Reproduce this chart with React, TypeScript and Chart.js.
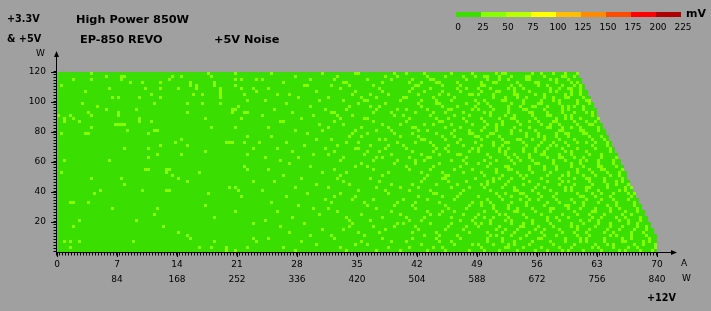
import { useEffect, useRef } from 'react';
import { Chart, registerables } from 'chart.js';

Chart.register(...registerables);

// ---- axis data ----
const currentTicksA = [0, 7, 14, 21, 28, 35, 42, 49, 56, 63, 70];
const power12VTicksW = [0, 84, 168, 252, 336, 420, 504, 588, 672, 756, 840];
const powerTicksW = [20, 40, 60, 80, 100, 120];

// ---- legend data ----
const noiseStopsMv = [0, 25, 50, 75, 100, 125, 150, 175, 200, 225];
const noiseBandColors = ['#3ade00', '#86ff00', '#b8ff00', '#ffff00', '#ffbf00', '#ff8a00', '#ff4a00', '#ff0000', '#b00000'];

// ---- measurement grid ----
const STEP_A = 0.35; // +12V current step per cell
const STEP_W = 2; // +3.3V & +5V power step per cell
const COLUMNS = 200;
const MAX_A = 70;
const MAX_W = 120;
const RAIL_V = 12;
const RATED_W = 850;

// cells measuring 25–50 mV (all other cells 0–25 mV); one list per row, top row (118–120 W) first,
// values are column indexes (column i covers i*0.35 … (i+1)*0.35 A)
const rows25to50mV: number[][] = [
  [11, 50, 59, 71, 88, 99, 100, 112, 116, 122, 131, 138, 146, 148, 149, 158, 161, 165, 169, 173],
  [16, 21, 22, 38, 41, 51, 79, 93, 109, 113, 123, 129, 135, 139, 142, 143, 147, 151, 156, 157, 162, 168, 169, 172],
  [5, 11, 21, 37, 59, 61, 66, 68, 84, 92, 103, 111, 118, 124, 125, 136, 143, 147, 150, 156, 157, 164, 166, 170],
  [24, 28, 34, 44, 52, 75, 95, 96, 108, 117, 121, 126, 127, 133, 141, 145, 146, 153, 159, 160, 166, 171, 173],
  [1, 44, 46, 52, 59, 82, 83, 91, 97, 105, 119, 120, 128, 134, 141, 142, 151, 154, 160, 163, 168, 172, 174],
  [17, 29, 34, 40, 46, 54, 61, 65, 70, 94, 107, 118, 124, 133, 136, 140, 144, 150, 152, 155, 164, 167, 170, 171, 174],
  [9, 54, 66, 86, 99, 108, 117, 122, 128, 134, 141, 146, 147, 152, 157, 164, 166, 171, 174],
  [31, 45, 48, 54, 62, 73, 77, 98, 104, 110, 120, 127, 130, 137, 138, 140, 145, 152, 153, 159, 162, 169, 171, 174],
  [18, 20, 27, 34, 54, 80, 90, 101, 106, 115, 116, 125, 132, 145, 149, 153, 156, 162, 165, 169, 170, 175],
  [63, 69, 87, 95, 102, 103, 114, 121, 126, 131, 139, 142, 148, 149, 155, 161, 165, 167, 173, 176, 177],
  [8, 32, 43, 48, 54, 76, 100, 109, 120, 126, 127, 136, 140, 143, 151, 155, 160, 161, 167, 173, 177],
  [13, 60, 84, 97, 104, 107, 121, 128, 133, 139, 144, 150, 154, 158, 159, 163, 168, 170, 172, 175],
  [16, 26, 58, 59, 72, 89, 96, 106, 113, 116, 123, 130, 131, 138, 140, 145, 150, 155, 156, 162, 168, 170, 175],
  [10, 20, 43, 58, 62, 63, 78, 91, 92, 105, 111, 119, 125, 129, 135, 142, 144, 150, 157, 158, 163, 168, 172, 176, 178],
  [0, 4, 11, 20, 68, 85, 93, 98, 112, 115, 124, 132, 137, 144, 149, 152, 158, 163, 164, 169, 171, 178],
  [2, 5, 27, 49, 61, 81, 94, 102, 103, 117, 126, 130, 135, 141, 147, 151, 152, 159, 166, 169, 171, 174, 180],
  [2, 7, 27, 31, 74, 75, 92, 105, 116, 127, 128, 136, 142, 148, 153, 157, 160, 165, 166, 172, 176, 179],
  [19, 20, 21, 22, 87, 95, 108, 114, 122, 125, 131, 138, 143, 146, 148, 154, 161, 164, 167, 173, 177, 178],
  [11, 51, 59, 70, 90, 101, 110, 118, 119, 129, 134, 142, 146, 152, 157, 163, 164, 168, 171, 174, 180],
  [23, 32, 33, 79, 88, 99, 106, 111, 120, 123, 132, 137, 141, 146, 151, 154, 159, 167, 168, 174, 175, 180],
  [1, 9, 10, 30, 83, 98, 103, 112, 118, 126, 131, 137, 138, 144, 145, 151, 156, 160, 166, 169, 170, 175, 176, 183],
  [63, 71, 97, 101, 114, 120, 128, 132, 139, 140, 143, 147, 156, 160, 162, 166, 170, 177, 181],
  [41, 86, 91, 107, 109, 121, 122, 129, 134, 141, 148, 153, 154, 158, 162, 167, 172, 178, 182],
  [39, 56, 57, 58, 62, 67, 76, 96, 100, 113, 119, 124, 133, 139, 145, 149, 150, 155, 161, 165, 169, 173, 176, 179, 183],
  [34, 43, 82, 93, 104, 110, 115, 125, 130, 135, 141, 145, 148, 156, 160, 164, 166, 170, 178, 183],
  [22, 30, 65, 73, 89, 99, 100, 109, 116, 126, 129, 138, 140, 147, 150, 155, 159, 163, 168, 173, 179, 184],
  [49, 78, 92, 103, 107, 118, 125, 130, 137, 140, 147, 149, 155, 159, 162, 169, 171, 176, 184],
  [33, 41, 63, 85, 90, 102, 111, 121, 127, 133, 134, 143, 149, 152, 157, 161, 162, 167, 171, 177, 181],
  [30, 69, 80, 95, 106, 108, 117, 123, 124, 136, 144, 150, 153, 157, 163, 167, 168, 172, 175, 181, 186],
  [2, 17, 74, 94, 105, 113, 119, 122, 131, 135, 142, 146, 151, 154, 158, 165, 169, 174, 176, 180, 185],
  [77, 101, 112, 119, 127, 136, 140, 144, 152, 159, 160, 165, 171, 174, 180, 185],
  [62, 84, 99, 103, 116, 125, 134, 143, 149, 150, 157, 162, 166, 171, 175, 180, 181, 186],
  [29, 30, 36, 37, 63, 70, 92, 105, 117, 124, 132, 138, 146, 150, 151, 157, 162, 166, 173, 177, 181, 182, 188],
  [1, 36, 47, 88, 96, 110, 121, 128, 135, 141, 146, 153, 158, 164, 170, 173, 178, 183, 187],
  [38, 75, 94, 108, 123, 129, 130, 142, 148, 154, 156, 163, 168, 170, 175, 179, 184, 187],
  [11, 21, 40, 81, 93, 104, 122, 128, 129, 139, 145, 147, 151, 155, 161, 167, 172, 176, 177, 182, 188],
  [43, 65, 72, 95, 107, 121, 130, 136, 143, 145, 150, 157, 163, 168, 170, 177, 182, 186, 188],
  [22, 86, 97, 111, 118, 126, 133, 141, 143, 149, 155, 160, 167, 172, 178, 183, 186, 190],
  [57, 59, 79, 90, 106, 114, 120, 131, 137, 142, 148, 152, 159, 162, 169, 171, 176, 177, 183, 189, 191],
  [14, 28, 36, 37, 60, 68, 100, 109, 117, 124, 135, 144, 152, 153, 158, 164, 169, 171, 176, 180, 187, 189],
  [12, 50, 83, 94, 110, 125, 126, 134, 146, 149, 154, 155, 160, 166, 173, 178, 181, 185, 190, 192],
  [61, 76, 92, 99, 120, 128, 133, 140, 147, 151, 156, 161, 165, 174, 175, 179, 184, 191],
  [89, 98, 105, 115, 123, 132, 143, 148, 154, 157, 160, 166, 171, 176, 181, 185, 190, 194],
  [4, 5, 10, 71, 91, 102, 113, 119, 127, 138, 141, 144, 151, 156, 163, 167, 172, 175, 180, 186, 192],
  [49, 80, 103, 112, 118, 129, 137, 141, 145, 150, 156, 162, 169, 170, 175, 183, 186, 192, 195],
  [18, 33, 85, 90, 106, 119, 130, 136, 145, 150, 153, 158, 164, 165, 170, 174, 179, 184, 187, 193],
  [59, 73, 93, 111, 123, 128, 132, 142, 146, 152, 153, 159, 164, 172, 178, 179, 184, 189, 193],
  [32, 87, 101, 114, 124, 127, 135, 140, 147, 149, 155, 161, 168, 173, 177, 182, 188, 191],
  [52, 78, 96, 108, 116, 122, 131, 139, 142, 145, 150, 156, 163, 166, 170, 178, 181, 186, 189, 194, 197],
  [7, 26, 69, 97, 104, 117, 121, 134, 138, 144, 149, 151, 158, 163, 167, 174, 177, 180, 187, 190, 194],
  [65, 82, 98, 113, 115, 124, 131, 139, 141, 144, 151, 155, 158, 164, 171, 175, 180, 184, 190, 193, 198],
  [5, 35, 74, 97, 105, 112, 119, 130, 136, 140, 147, 154, 155, 160, 165, 171, 173, 179, 184, 188, 193, 196],
  [88, 95, 109, 120, 129, 135, 146, 149, 153, 159, 162, 167, 173, 177, 183, 187, 192, 196],
  [40, 77, 100, 107, 118, 126, 137, 143, 148, 152, 157, 161, 168, 172, 176, 182, 185, 191, 195],
  [43, 84, 91, 102, 122, 127, 133, 144, 146, 151, 156, 162, 166, 173, 177, 184, 186, 191, 196],
  [44, 65, 70, 92, 108, 118, 126, 134, 143, 148, 154, 160, 161, 169, 174, 176, 182, 188, 191, 197],
  [2, 4, 7, 25, 52, 66, 81, 101, 111, 116, 127, 131, 143, 148, 152, 158, 164, 169, 174, 176, 182, 188, 189, 195, 197],
  [86, 99, 103, 121, 132, 138, 140, 145, 150, 152, 157, 165, 172, 179, 183, 185, 192, 195, 199],
  [4, 47, 51, 56, 63, 75, 94, 110, 117, 125, 128, 141, 149, 150, 155, 161, 167, 171, 178, 180, 185, 190, 193, 199],
  [56, 59, 79, 96, 106, 114, 123, 129, 137, 142, 147, 153, 159, 163, 168, 170, 175, 181, 187, 189, 194, 198],
];

type Cell = { x: [number, number]; y: number; band: number };

function buildCells(): Cell[] {
  const cells: Cell[] = [];
  const rowCount = rows25to50mV.length;
  rows25to50mV.forEach((light, r) => {
    const wLow = (rowCount - 1 - r) * STEP_W;
    const set = new Set(light);
    for (let c = 0; c < COLUMNS; c++) {
      const aLow = c * STEP_A;
      const aHigh = (c + 1) * STEP_A;
      if (aHigh > MAX_A + 1e-6) break;
      if (aHigh * RAIL_V + wLow > RATED_W + 1e-6) break;
      cells.push({ x: [aLow, aHigh], y: wLow + STEP_W / 2, band: set.has(c) ? 1 : 0 });
    }
  });
  return cells;
}

const FAMILY = '"DejaVu Sans", sans-serif';

const decor = {
  id: 'decor',
  afterDraw(chart: any) {
    const { ctx, chartArea } = chart;
    const xs = chart.scales.x;
    const ys = chart.scales.y;
    const left = chartArea.left;
    const bottom = chartArea.bottom;
    ctx.save();
    ctx.strokeStyle = '#000';
    ctx.fillStyle = '#000';
    ctx.lineWidth = 1;

    // axis lines
    const ax = left - 0.5;
    const ay = bottom + 0.5;
    ctx.beginPath();
    ctx.moveTo(ax, ay);
    ctx.lineTo(ax, 54);
    ctx.moveTo(ax - 0.5, ay);
    ctx.lineTo(673, ay);
    ctx.stroke();
    // arrowheads
    ctx.beginPath();
    ctx.moveTo(ax, 51);
    ctx.lineTo(ax - 2.5, 57);
    ctx.lineTo(ax + 2.5, 57);
    ctx.closePath();
    ctx.fill();
    ctx.beginPath();
    ctx.moveTo(677, ay);
    ctx.lineTo(671, ay - 2.5);
    ctx.lineTo(671, ay + 2.5);
    ctx.closePath();
    ctx.fill();

    // minor ticks
    ctx.beginPath();
    for (let a = 0; a <= MAX_A + 1e-6; a += STEP_A) {
      const px = Math.round(xs.getPixelForValue(a)) - 0.5;
      ctx.moveTo(px, ay);
      ctx.lineTo(px, ay + 3);
    }
    for (let w = 0; w <= MAX_W + 1e-6; w += STEP_W) {
      const py = Math.round(ys.getPixelForValue(w)) - 0.5;
      ctx.moveTo(ax, py);
      ctx.lineTo(ax - 3, py);
    }
    ctx.stroke();

    // texts
    ctx.textBaseline = 'middle';
    ctx.textAlign = 'left';
    ctx.font = `bold 9.7px ${FAMILY}`;
    ctx.fillText('+3.3V', 7, 19.5);
    ctx.fillText('& +5V', 7, 39.5);
    ctx.fillText('+12V', 647, 298);
    ctx.font = `bold 11.3px ${FAMILY}`;
    ctx.fillText('High Power 850W', 76, 20.5);
    ctx.fillText('EP-850 REVO', 80, 40.5);
    ctx.fillText('+5V Noise', 214, 40.5);
    ctx.font = `9px ${FAMILY}`;
    ctx.fillText('W', 36, 54);
    ctx.fillText('A', 681, 264);
    ctx.fillText('W', 682, 279);

    // colour legend
    const lx = 456;
    const segW = 25;
    noiseBandColors.forEach((col, i) => {
      ctx.fillStyle = col;
      ctx.fillRect(lx + i * segW, 12, segW, 5);
    });
    ctx.fillStyle = '#000';
    ctx.textAlign = 'center';
    ctx.font = `9px ${FAMILY}`;
    noiseStopsMv.forEach((v, i) => {
      ctx.fillText(String(v), lx + i * segW + 2, 27.5);
    });
    ctx.textAlign = 'left';
    ctx.font = `bold 11px ${FAMILY}`;
    ctx.fillText('mV', 686, 14);
    ctx.restore();
  },
};

export default function App() {
  const ref = useRef<HTMLCanvasElement>(null);
  useEffect(() => {
    document.body.style.margin = '0';
    document.body.style.background = '#a0a0a0';
    const cells = buildCells();
    const chart = new Chart(ref.current as HTMLCanvasElement, {
      type: 'bar',
      data: {
        datasets: [
          {
            label: '+5V noise',
            data: cells as any,
            backgroundColor: cells.map((c) => noiseBandColors[c.band]),
            borderWidth: 0,
            inflateAmount: 0,
            barPercentage: 1,
            categoryPercentage: 1,
            grouped: false,
          } as any,
        ],
      },
      options: {
        indexAxis: 'y',
        animation: false,
        responsive: false,
        maintainAspectRatio: false,
        events: [],
        layout: { padding: { top: 72, right: 54, left: 0, bottom: 0 } },
        plugins: { legend: { display: false }, tooltip: { enabled: false } },
        scales: {
          x: {
            type: 'linear',
            position: 'bottom',
            min: 0,
            max: MAX_A,
            afterBuildTicks: (s: any) => {
              s.ticks = currentTicksA.map((v) => ({ value: v }));
            },
            afterFit: (s: any) => {
              s.height = 59;
            },
            grid: { drawOnChartArea: false, tickLength: 5, color: '#000' },
            border: { display: false },
            ticks: {
              autoSkip: false,
              maxRotation: 0,
              padding: 0,
              color: '#000',
              font: { family: FAMILY, size: 9, lineHeight: 15 / 9 },
              callback: (_v: any, i: number) => [String(currentTicksA[i]), i === 0 ? '' : String(power12VTicksW[i])],
            },
          },
          y: {
            type: 'linear',
            min: 0,
            max: MAX_W,
            offset: false,
            afterBuildTicks: (s: any) => {
              s.ticks = powerTicksW.map((v) => ({ value: v }));
            },
            afterFit: (s: any) => {
              s.width = 57;
            },
            grid: { drawOnChartArea: false, offset: false, tickLength: 6, color: '#000' },
            border: { display: false },
            ticks: {
              padding: 5,
              color: '#000',
              font: { family: FAMILY, size: 9 },
              callback: (v: any) => String(v),
            },
          },
        },
      } as any,
      plugins: [decor],
    });
    return () => chart.destroy();
  }, []);
  return (
    <div style={{ width: 711, height: 311, background: '#a0a0a0' }}>
      <canvas ref={ref} width={711} height={311} style={{ display: 'block' }} />
    </div>
  );
}
